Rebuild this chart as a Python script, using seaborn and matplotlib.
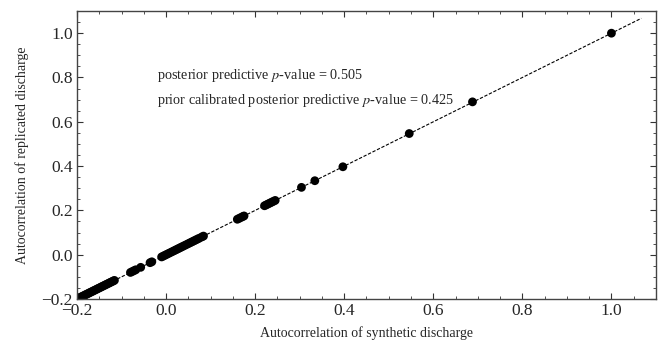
import matplotlib
matplotlib.use("Agg")
import matplotlib.pyplot as plt
import seaborn as sns
import numpy as np
import pandas as pd
from matplotlib.ticker import MultipleLocator

synthetic = [-0.200, -0.197, -0.194, -0.191, -0.188, -0.185, -0.182, -0.179, -0.176, -0.173,
             -0.170, -0.167, -0.164, -0.161, -0.158, -0.155, -0.152, -0.149, -0.146, -0.143,
             -0.140, -0.137, -0.134, -0.131, -0.128, -0.125, -0.122, -0.119, -0.116,
             -0.080, -0.076, -0.072, -0.068, -0.057, -0.036, -0.032,
             -0.010, -0.006, -0.002, 0.002, 0.006, 0.010, 0.014, 0.018, 0.022, 0.026,
             0.030, 0.034, 0.038, 0.042, 0.046, 0.050, 0.054, 0.058, 0.062, 0.066,
             0.070, 0.074, 0.080, 0.084,
             0.160, 0.164, 0.168, 0.172, 0.175,
             0.221, 0.225, 0.229, 0.233, 0.237, 0.241, 0.245,
             0.304, 0.334, 0.397, 0.546, 0.688, 1.000]
replicated = [-0.200, -0.197, -0.194, -0.191, -0.188, -0.185, -0.182, -0.179, -0.176, -0.173,
              -0.170, -0.167, -0.164, -0.161, -0.158, -0.155, -0.152, -0.149, -0.146, -0.143,
              -0.140, -0.137, -0.134, -0.131, -0.128, -0.125, -0.122, -0.119, -0.116,
              -0.080, -0.076, -0.072, -0.068, -0.057, -0.036, -0.032,
              -0.010, -0.006, -0.002, 0.002, 0.006, 0.010, 0.014, 0.018, 0.022, 0.026,
              0.030, 0.034, 0.038, 0.042, 0.046, 0.050, 0.054, 0.058, 0.062, 0.066,
              0.070, 0.074, 0.080, 0.084,
              0.160, 0.164, 0.168, 0.172, 0.175,
              0.221, 0.225, 0.229, 0.233, 0.237, 0.241, 0.245,
              0.304, 0.334, 0.397, 0.547, 0.690, 1.000]
line_x = [-0.2, 1.067]
annot_lines = ["posterior predictive $p$-value = 0.505",
               "prior calibrated posterior predictive $p$-value = 0.425"]

sns.set_style("ticks")
plt.rcParams["font.family"] = ["Liberation Serif", "DejaVu Serif"]
plt.rcParams["mathtext.fontset"] = "stix"

fig = plt.figure(figsize=(6.61, 3.45), dpi=100)
ax = fig.add_axes([0.1165, 0.1333, 0.8759, 0.8347])

df = pd.DataFrame({"synthetic": synthetic, "replicated": replicated})
sns.lineplot(x=line_x, y=line_x, ax=ax, color="black", linestyle=(0, (3, 1.5)),
             linewidth=0.8, zorder=1)
sns.scatterplot(data=df, x="synthetic", y="replicated", ax=ax, color="black",
                s=40, edgecolor="none", zorder=2)

ax.set_xlim(-0.2, 1.1)
ax.set_ylim(-0.2, 1.1)
ax.xaxis.set_major_locator(MultipleLocator(0.2))
ax.yaxis.set_major_locator(MultipleLocator(0.2))
ax.xaxis.set_minor_locator(MultipleLocator(0.05))
ax.yaxis.set_minor_locator(MultipleLocator(0.05))
ax.tick_params(which="both", direction="in", top=True, right=True, color="#333333")
ax.tick_params(which="major", length=4, width=0.8, labelsize=12.5, pad=3)
ax.tick_params(which="minor", length=2, width=0.6)
for s in ax.spines.values():
    s.set_linewidth(1.0)
    s.set_color("#444444")

ax.set_xlabel("Autocorrelation of synthetic discharge", fontsize=10, labelpad=5)
ax.set_ylabel("Autocorrelation of replicated discharge", fontsize=10, labelpad=9)

ax.text(-0.02, 0.807, annot_lines[0], fontsize=10.3, va="center", ha="left")
ax.text(-0.02, 0.694, annot_lines[1], fontsize=10.3, va="center", ha="left")

fig.savefig("out.png", dpi=100)
